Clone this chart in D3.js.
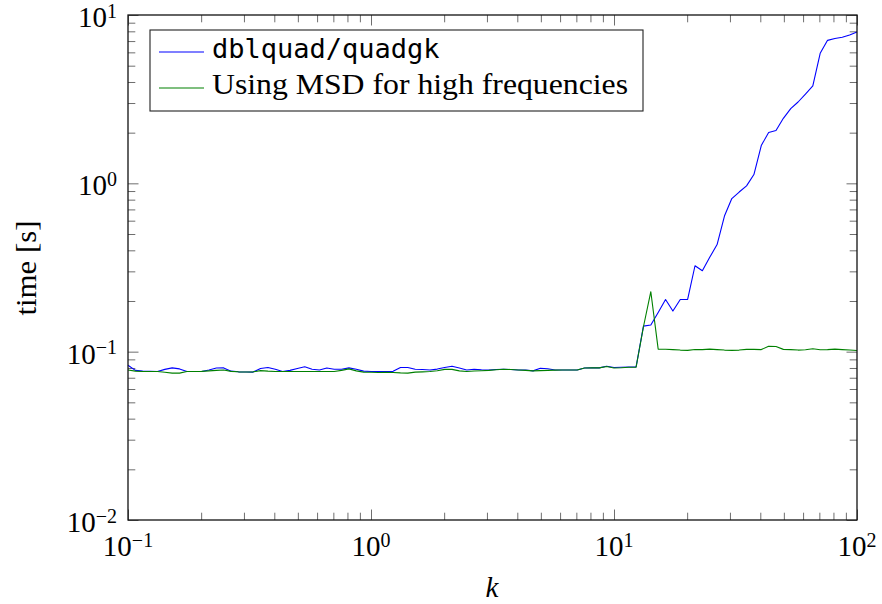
<!DOCTYPE html>
<html>
<head>
<meta charset="utf-8">
<script src="https://cdn.jsdelivr.net/npm/d3@7"></script>
<style>
  body { margin: 0; background: #fff; }
  svg text { font-family: "Liberation Serif", "Times New Roman", serif; fill: #000; }
  .mono { font-family: "DejaVu Sans Mono", monospace; }
</style>
</head>
<body>
<svg id="chart" width="882" height="604"></svg>
<script>
// sample grid: 100 points, log-spaced from 1e-1 to 1e2
let kValues = d3.range(100).map(i => Math.pow(10, -1 + 3 * i / 99));

// dblquad/quadgk timings [s]
let quadTime = [
  0.0830, 0.0774, 0.0766, 0.0764, 0.0762, 0.0785, 0.0801, 0.0790, 0.0762, 0.0762,
  0.0762, 0.0779, 0.0800, 0.0801, 0.0766, 0.0759, 0.0757, 0.0756, 0.0795, 0.0806,
  0.0787, 0.0762, 0.0774, 0.0795, 0.0813, 0.0787, 0.0779, 0.0800, 0.0787, 0.0787,
  0.0801, 0.0787, 0.0766, 0.0762, 0.0762, 0.0762, 0.0764, 0.0806, 0.0806, 0.0787,
  0.0783, 0.0779, 0.0788, 0.0806, 0.0820, 0.0800, 0.0779, 0.0787, 0.0781, 0.0779,
  0.0783, 0.0786, 0.0783, 0.0779, 0.0779, 0.0769, 0.0797, 0.0792, 0.0779, 0.0779,
  0.0779, 0.0779, 0.0800, 0.0801, 0.0801, 0.0820, 0.0806, 0.0808, 0.0810, 0.0812,
  0.1419, 0.1439, 0.1708, 0.2040, 0.1743, 0.2040, 0.2045, 0.3239, 0.3024, 0.3634,
  0.4330, 0.6393, 0.8122, 0.8877, 0.9663, 1.128, 1.677, 2.003, 2.059, 2.434,
  2.779, 3.042, 3.393, 3.795, 5.92, 7.07, 7.25, 7.38, 7.61, 7.93
];

// MSD for high frequencies timings [s]
let msdTime = [
  0.0779, 0.0766, 0.0762, 0.0762, 0.0762, 0.0754, 0.0746, 0.0746, 0.0762, 0.0762,
  0.0764, 0.0769, 0.0774, 0.0779, 0.0764, 0.0759, 0.0757, 0.0759, 0.0772, 0.0766,
  0.0762, 0.0762, 0.0762, 0.0762, 0.0762, 0.0762, 0.0762, 0.0762, 0.0762, 0.0774,
  0.0790, 0.0769, 0.0756, 0.0754, 0.0752, 0.0754, 0.0752, 0.0748, 0.0746, 0.0756,
  0.0759, 0.0762, 0.0771, 0.0785, 0.0785, 0.0769, 0.0762, 0.0767, 0.0771, 0.0774,
  0.0781, 0.0787, 0.0783, 0.0779, 0.0774, 0.0769, 0.0772, 0.0774, 0.0777, 0.0778,
  0.0779, 0.0779, 0.0800, 0.0801, 0.0801, 0.0816, 0.0800, 0.0803, 0.0808, 0.0808,
  0.1406, 0.2270, 0.1036, 0.1033, 0.1029, 0.1022, 0.1018, 0.1029, 0.1029, 0.1036,
  0.1029, 0.1022, 0.1018, 0.1022, 0.1032, 0.1032, 0.1029, 0.1077, 0.1073, 0.1032,
  0.1029, 0.1022, 0.1026, 0.1040, 0.1026, 0.1029, 0.1036, 0.1029, 0.1022, 0.1017
];

let seriesNames = ['dblquad/quadgk', 'Using MSD for high frequencies'];
let seriesColors = ['#0000ff', '#008000'];
let xExponents = [-1, 0, 1, 2];
let yExponents = [-2, -1, 0, 1];

let width = 882, height = 604;
let margin = { top: 15, right: 25, bottom: 84, left: 128 };
let plotW = width - margin.left - margin.right;
let plotH = height - margin.top - margin.bottom;

let svg = d3.select('#chart');
let g = svg.append('g').attr('transform', `translate(${margin.left},${margin.top})`);

let x = d3.scaleLog().domain([0.1, 100]).range([0, plotW]);
let y = d3.scaleLog().domain([0.01, 10]).range([plotH, 0]);

// decade and in-between ticks
let majorX = xExponents.map(e => Math.pow(10, e));
let majorY = yExponents.map(e => Math.pow(10, e));
let minorOf = (majors) => {
  let out = [];
  majors.slice(0, -1).forEach(m => { for (let j = 2; j <= 9; j++) out.push(m * j); });
  return out;
};
let minorX = minorOf(majorX), minorY = minorOf(majorY);

let addTicks = (axis, transform) => {
  let a = g.append('g').attr('transform', transform).call(axis);
  a.select('.domain').remove();
  a.selectAll('.tick line').attr('stroke', '#6e6e6e').attr('stroke-width', 1);
  a.selectAll('.tick text').remove();
};

// ticks point inward on all four sides
addTicks(d3.axisBottom(x).tickValues(majorX).tickSize(-10.5), `translate(0,${plotH})`);
addTicks(d3.axisBottom(x).tickValues(minorX).tickSize(-7.3), `translate(0,${plotH})`);
addTicks(d3.axisTop(x).tickValues(majorX).tickSize(-10.5), 'translate(0,0)');
addTicks(d3.axisTop(x).tickValues(minorX).tickSize(-7.3), 'translate(0,0)');
addTicks(d3.axisLeft(y).tickValues(majorY).tickSize(-10.5), 'translate(0,0)');
addTicks(d3.axisLeft(y).tickValues(minorY).tickSize(-7.3), 'translate(0,0)');
addTicks(d3.axisRight(y).tickValues(majorY).tickSize(-10.5), `translate(${plotW},0)`);
addTicks(d3.axisRight(y).tickValues(minorY).tickSize(-7.3), `translate(${plotW},0)`);

// power-of-ten labels
let powerLabel = (sel, e) => {
  let sup = e < 0 ? '\u2212' + (-e) : String(e);
  sel.append('tspan').attr('font-size', 29).text('10');
  sel.append('tspan').attr('font-size', 20).attr('dy', -9.5).text(sup);
};

xExponents.forEach(e => {
  let t = g.append('text')
    .attr('x', x(Math.pow(10, e)))
    .attr('y', plotH + 36)
    .attr('text-anchor', 'middle');
  powerLabel(t, e);
});

yExponents.forEach(e => {
  let t = g.append('text')
    .attr('x', -11)
    .attr('y', y(Math.pow(10, e)) + 12)
    .attr('text-anchor', 'end');
  powerLabel(t, e);
});

// series
let line = d3.line()
  .x((d, i) => x(kValues[i]))
  .y(d => y(d));

[quadTime, msdTime].forEach((s, i) => {
  g.append('path')
    .datum(s)
    .attr('fill', 'none')
    .attr('stroke', seriesColors[i])
    .attr('stroke-width', 1.1)
    .attr('stroke-linejoin', 'round')
    .attr('d', line);
});

// frame
g.append('rect')
  .attr('width', plotW).attr('height', plotH)
  .attr('fill', 'none').attr('stroke', '#111').attr('stroke-width', 1.3);

// axis titles
svg.append('text')
  .attr('x', 492).attr('y', 597)
  .attr('text-anchor', 'middle')
  .attr('font-size', 29)
  .attr('font-style', 'italic')
  .text('k');

svg.append('text')
  .attr('transform', 'translate(36,268) rotate(-90)')
  .attr('text-anchor', 'middle')
  .attr('font-size', 29)
  .attr('textLength', 95).attr('lengthAdjust', 'spacingAndGlyphs')
  .text('time [s]');

// legend
let legend = svg.append('g').attr('transform', 'translate(150,30)');
legend.append('rect')
  .attr('width', 493).attr('height', 81)
  .attr('fill', '#fff').attr('stroke', '#222').attr('stroke-width', 1.1);

seriesNames.forEach((name, i) => {
  let rowY = 22 + i * 36;
  legend.append('line')
    .attr('x1', 9).attr('x2', 54)
    .attr('y1', rowY).attr('y2', rowY)
    .attr('stroke', seriesColors[i]).attr('stroke-width', 1.1);
  let t = legend.append('text')
    .attr('x', 62).attr('y', rowY + 6)
    .attr('font-size', i === 0 ? 27 : 29)
    .text(name);
  if (i === 0) t.attr('class', 'mono');
  else t.attr('textLength', 416).attr('lengthAdjust', 'spacingAndGlyphs');
});
</script>
</body>
</html>
